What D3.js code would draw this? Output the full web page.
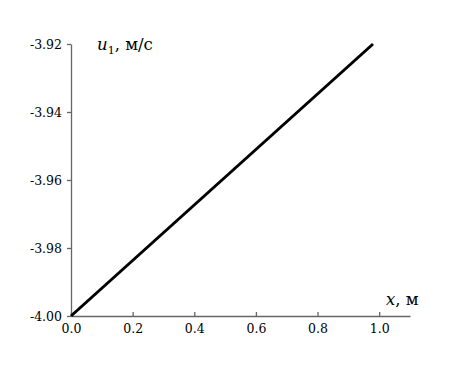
<!DOCTYPE html>
<html>
<head>
<meta charset="utf-8">
<script src="https://cdn.jsdelivr.net/npm/d3@7"></script>
<style>
  body { margin: 0; background: #fff; }
</style>
</head>
<body>
<div id="chart"></div>
<script>
(function() {
    // data
    const xValues = [0.0, 0.98];
    const uValues = [-4.00, -3.92];
    const xTicks = [0.0, 0.2, 0.4, 0.6, 0.8, 1.0];
    const yTicks = [-4.00, -3.98, -3.96, -3.94, -3.92];

    const width = 461, height = 377;
    const margin = { left: 71, top: 44, right: 51, bottom: 61 };

    const svg = d3.select("#chart").append("svg")
        .attr("width", width)
        .attr("height", height);

    const x = d3.scaleLinear().domain([0, 1.1]).range([margin.left, width - margin.right]);
    const y = d3.scaleLinear().domain([-4.00, -3.92]).range([height - margin.bottom, margin.top]);

    const axisColor = "#666";
    const fontFam = "DejaVu Serif";

    // x axis
    const xAxis = svg.append("g")
        .attr("transform", `translate(0,${y(-4.00)})`)
        .call(d3.axisBottom(x).tickValues(xTicks).tickFormat(d => d.toFixed(1)).tickSize(-4).tickSizeOuter(0));
    xAxis.select(".domain").attr("stroke", axisColor).attr("stroke-width", 1.3);
    xAxis.selectAll(".tick line").attr("stroke", axisColor).attr("stroke-width", 1.3);
    xAxis.selectAll(".tick text")
        .attr("y", 8).attr("dy", "0.71em")
        .attr("fill", "#000")
        .style("font-family", fontFam)
        .style("font-size", "12.5px");

    // y axis
    const yAxis = svg.append("g")
        .attr("transform", `translate(${x(0)},0)`)
        .call(d3.axisLeft(y).tickValues(yTicks).tickFormat(d => d.toFixed(2)).tickSize(4).tickSizeOuter(0));
    yAxis.select(".domain").attr("stroke", axisColor).attr("stroke-width", 1.3);
    yAxis.selectAll(".tick line").attr("stroke", axisColor).attr("stroke-width", 1.3);
    yAxis.selectAll(".tick text")
        .attr("x", -9)
        .attr("fill", "#000")
        .style("font-family", fontFam)
        .style("font-size", "12.5px");

    // series
    const pts = xValues.map((v, i) => [v, uValues[i]]);
    svg.append("path")
        .datum(pts)
        .attr("fill", "none")
        .attr("stroke", "#000")
        .attr("stroke-width", 3)
        .attr("d", d3.line().x(d => x(d[0])).y(d => y(d[1])));

    // axis titles
    const yTitle = svg.append("text")
        .attr("x", 97).attr("y", 50)
        .style("font-family", fontFam)
        .style("font-size", "16.5px");
    yTitle.append("tspan").attr("font-style", "italic").text("u");
    yTitle.append("tspan").attr("dy", 4).style("font-size", "11px").text("1");
    yTitle.append("tspan").attr("dy", -4).text(", м/с");

    const xTitle = svg.append("text")
        .attr("x", 386).attr("y", 305)
        .style("font-family", fontFam)
        .style("font-size", "16.5px");
    xTitle.append("tspan").attr("font-style", "italic").text("x");
    xTitle.append("tspan").text(", м");
})();
</script>
</body>
</html>
